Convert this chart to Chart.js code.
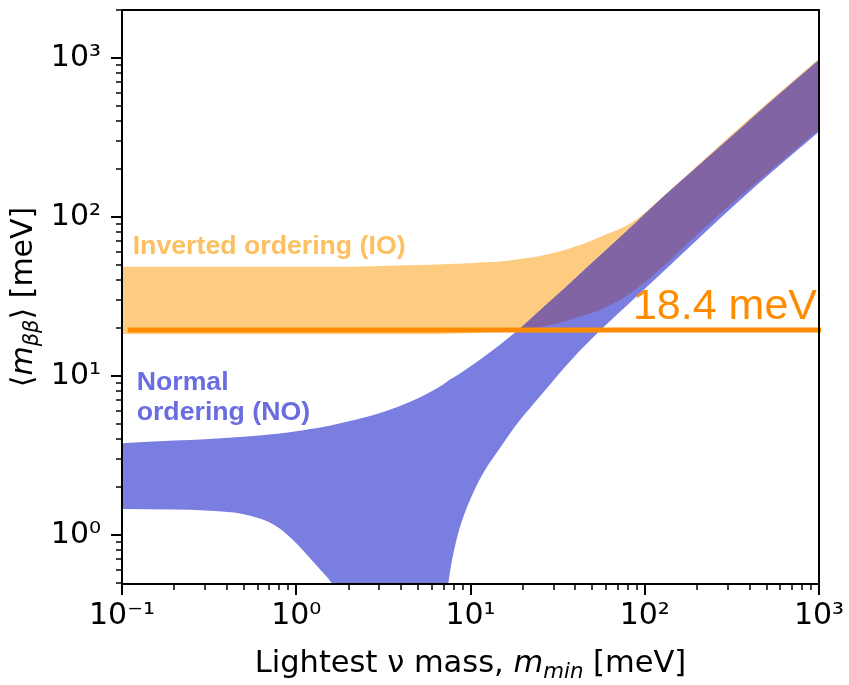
<!DOCTYPE html>
<html><head><meta charset="utf-8">
<script src="https://cdn.jsdelivr.net/npm/chart.js@4.4.0/dist/chart.umd.min.js"></script>
<style>html,body{margin:0;padding:0;background:#fff;}#wrap{width:849px;height:685px;position:relative;}</style>
</head><body><div id="wrap"><canvas id="c" width="849" height="685"></canvas></div>
<script>
// ---- data (meV) ----
const massGrid = [0.1, 0.2, 0.3, 0.5, 0.7, 0.8, 1.0, 1.2, 1.4, 1.6, 2.0, 3.0, 5.0, 6.5, 7.4, 7.7, 8.3, 9.0, 10.4, 12, 14.7, 18, 18.8, 22.9, 30, 40, 55, 85, 134, 207, 352, 500, 1000];
const noLower  = [1.45, 1.44, 1.42, 1.346, 1.199, 1.099, 0.885, 0.712, 0.589, 0.495, 0.30, 0.10, 0.10, 0.20, 0.468, 0.625, 0.924, 1.252, 1.852, 2.51, 3.49, 4.79, 5.11, 6.63, 9.38, 13.4, 19.1, 29.9, 47.5, 74.5, 127, 179, 343];
const noUpper  = [3.77, 3.91, 3.99, 4.13, 4.27, 4.33, 4.47, 4.62, 4.75, 4.89, 5.18, 5.82, 7.23, 8.41, 9.25, 9.53, 10.0, 10.6, 11.8, 13.2, 15.6, 18.7, 19.4, 23.6, 30.8, 41.1, 56.6, 87.9, 140, 213, 357, 504, 968];
const ioLower  = [18.3, 18.3, 18.3, 18.3, 18.3, 18.3, 18.3, 18.3, 18.3, 18.3, 18.3, 18.3, 18.3, 18.33, 18.38, 18.4, 18.45, 18.5, 18.6, 18.77, 18.96, 19.29, 19.4, 19.94, 21.0, 23.1, 25.9, 33.8, 51.3, 80.2, 134, 186, 354];
const ioUpper  = [48.5, 48.5, 48.5, 48.5, 48.5, 48.5, 48.5, 48.6, 48.6, 48.6, 48.6, 49.1, 49.7, 50.2, 50.4, 50.5, 50.6, 50.8, 51.2, 51.7, 52.3, 53.6, 54.0, 55.6, 59.2, 65.0, 74.5, 92.7, 141, 217, 367, 516, 991];

const limitValue = 19.4;          // drawn level of the limit line
const limitRange = [0.1079, 1027];
const limitLabel = '18.4 meV';

const xTickValues = [0.1, 1, 10, 100, 1000];
const xTickLabels = ['10\u207B\u00B9', '10\u2070', '10\u00B9', '10\u00B2', '10\u00B3'];
const yTickValues = [1, 10, 100, 1000];
const yTickLabels = ['10\u2070', '10\u00B9', '10\u00B2', '10\u00B3'];

const ioText = 'Inverted ordering (IO)';
const noTextLines = ['Normal', 'ordering (NO)'];
const ioTextAt = [0.1152, 58.2];
const noTextAt = [[0.1214, 8.12], [0.1214, 5.26]];
const limitTextAt = [974, 22.9];

const xTitleRuns = [{t:'Lightest \u03BD mass, '}, {t:'m', it:true}, {t:'min', it:true, sub:true}, {t:' [meV]'}];
const yTitleRuns = [{t:'\u27E8'}, {t:'m', it:true}, {t:'\u03B2\u03B2', it:true, sub:true}, {t:'\u27E9 [meV]'}];

// ---- colours ----
const ioFill = '#fecc80', noFill = '#7b7ee1', bothFill = '#8064a4';
const limitColor = '#ff8c00', ioTextColor = '#fdbf5f', noTextColor = '#6a6de0';
const FONT = '"DejaVu Sans", sans-serif';

// ---- derived tables ----
const pts = arr => massGrid.map((m, i) => ({x: m, y: arr[i]}));
const ovHi = massGrid.map((m, i) => { const hi = Math.min(noUpper[i], ioUpper[i]), lo = Math.max(noLower[i], ioLower[i]); return {x: m, y: hi >= lo - 1e-9 ? hi : null}; });
const ovLo = massGrid.map((m, i) => { const hi = Math.min(noUpper[i], ioUpper[i]), lo = Math.max(noLower[i], ioLower[i]); return {x: m, y: hi >= lo - 1e-9 ? lo : null}; });

function labelFor(v, vals, labels) {
  for (let i = 0; i < vals.length; i++) if (Math.abs(v / vals[i] - 1) < 1e-6) return labels[i];
  return '';
}

const base = {showLine: true, pointRadius: 0, borderWidth: 0, cubicInterpolationMode: 'monotone'};

function drawRuns(ctx, runs, size) {
  const parts = runs.map(r => {
    const s = r.sub ? size * 0.7 : size;
    const f = (r.it ? 'italic ' : '') + s + 'px ' + FONT;
    ctx.font = f;
    return {t: r.t, f, w: ctx.measureText(r.t).width, dy: r.sub ? size * 0.2 : 0};
  });
  const total = parts.reduce((a, p) => a + p.w, 0);
  let x = -total / 2;
  for (const p of parts) { ctx.font = p.f; ctx.fillText(p.t, x, p.dy); x += p.w; }
}

const framePlugin = {
  id: 'frameTicks',
  afterDraw(chart) {
    const {ctx, chartArea: a, scales} = chart;
    ctx.save();
    ctx.strokeStyle = '#000';
    const drawAxis = (scale, horiz) => {
      const lo = Math.floor(Math.log10(scale.min)), hi = Math.ceil(Math.log10(scale.max));
      for (let e = lo; e <= hi; e++) for (let k = 1; k <= 9; k++) {
        const v = k * Math.pow(10, e);
        if (v < scale.min * 0.9999 || v > scale.max * 1.0001) continue;
        const p = Math.round(scale.getPixelForValue(v));
        const len = k === 1 ? 11 : 6;
        ctx.lineWidth = k === 1 ? 2 : 1.5;
        ctx.beginPath();
        if (horiz) { ctx.moveTo(p, a.bottom); ctx.lineTo(p, a.bottom + len); }
        else { ctx.moveTo(a.left, p); ctx.lineTo(a.left - len, p); }
        ctx.stroke();
      }
    };
    drawAxis(scales.x, true);
    drawAxis(scales.y, false);
    ctx.lineWidth = 2;
    ctx.strokeRect(a.left, a.top, a.right - a.left, a.bottom - a.top);
    // axis titles
    ctx.fillStyle = '#000';
    ctx.textBaseline = 'alphabetic';
    ctx.save();
    ctx.translate((a.left + a.right) / 2, 672);
    drawRuns(ctx, xTitleRuns, 30.5);
    ctx.restore();
    ctx.save();
    ctx.translate(32, (a.top + a.bottom) / 2);
    ctx.rotate(-Math.PI / 2);
    drawRuns(ctx, yTitleRuns, 30);
    ctx.restore();
    ctx.restore();
  }
};

const notePlugin = {
  id: 'notes',
  afterDatasetsDraw(chart) {
    const {ctx, scales: {x, y}} = chart;
    ctx.save();
    ctx.textBaseline = 'alphabetic';
    ctx.textAlign = 'left';
    ctx.font = 'bold 26.7px "Liberation Sans", Arial, sans-serif';
    ctx.fillStyle = ioTextColor;
    ctx.fillText(ioText, x.getPixelForValue(ioTextAt[0]), y.getPixelForValue(ioTextAt[1]));
    ctx.fillStyle = noTextColor;
    noTextLines.forEach((t, i) => ctx.fillText(t, x.getPixelForValue(noTextAt[i][0]), y.getPixelForValue(noTextAt[i][1])));
    ctx.textAlign = 'right';
    ctx.font = '43px "Liberation Sans", Arial, sans-serif';
    ctx.fillStyle = limitColor;
    ctx.fillText(limitLabel, x.getPixelForValue(limitTextAt[0]), y.getPixelForValue(limitTextAt[1]));
    ctx.restore();
  }
};

const zeroPad = s => { s.paddingTop = 0; s.paddingBottom = 0; s.paddingLeft = 0; s.paddingRight = 0; };

new Chart(document.getElementById('c'), {
  type: 'scatter',
  data: {
    datasets: [
      {...base, label: 'IO low', data: pts(ioLower), fill: false, order: 4},
      {...base, label: 'IO', data: pts(ioUpper), fill: '-1', backgroundColor: ioFill, order: 4},
      {...base, label: 'NO low', data: pts(noLower), fill: false, order: 3},
      {...base, label: 'NO', data: pts(noUpper), fill: '-1', backgroundColor: noFill, order: 3},
      {...base, label: 'both low', data: ovLo, fill: false, order: 2, spanGaps: false},
      {...base, label: 'both', data: ovHi, fill: '-1', backgroundColor: bothFill, order: 2, spanGaps: false},
      {showLine: true, pointRadius: 0, label: 'limit', data: limitRange.map(v => ({x: v, y: limitValue})), borderColor: limitColor, borderWidth: 5, fill: false, order: 1, clip: false}
    ]
  },
  options: {
    responsive: false,
    animation: false,
    devicePixelRatio: 1,
    layout: {padding: {top: 10, right: 30, left: 0, bottom: 0}},
    plugins: {legend: {display: false}, tooltip: {enabled: false}},
    scales: {
      x: {
        type: 'logarithmic', min: 0.1, max: 1000, position: 'bottom',
        afterFit: s => { s.height = 101; zeroPad(s); },
        grid: {display: true, drawOnChartArea: false, drawTicks: true, tickLength: 11, color: 'rgba(0,0,0,0)'},
        border: {display: false},
        ticks: {autoSkip: false, maxRotation: 0, minRotation: 0, padding: 3, color: '#000',
          font: {family: FONT, size: 30}, callback: v => labelFor(v, xTickValues, xTickLabels)}
      },
      y: {
        type: 'logarithmic', min: 0.49, max: 2000, position: 'left',
        afterFit: s => { s.width = 122; zeroPad(s); },
        grid: {display: true, drawOnChartArea: false, drawTicks: true, tickLength: 11, color: 'rgba(0,0,0,0)'},
        border: {display: false},
        ticks: {autoSkip: false, padding: 10, color: '#000',
          font: {family: FONT, size: 30}, callback: v => labelFor(v, yTickValues, yTickLabels)}
      }
    }
  },
  plugins: [notePlugin, framePlugin]
});
</script></body></html>
